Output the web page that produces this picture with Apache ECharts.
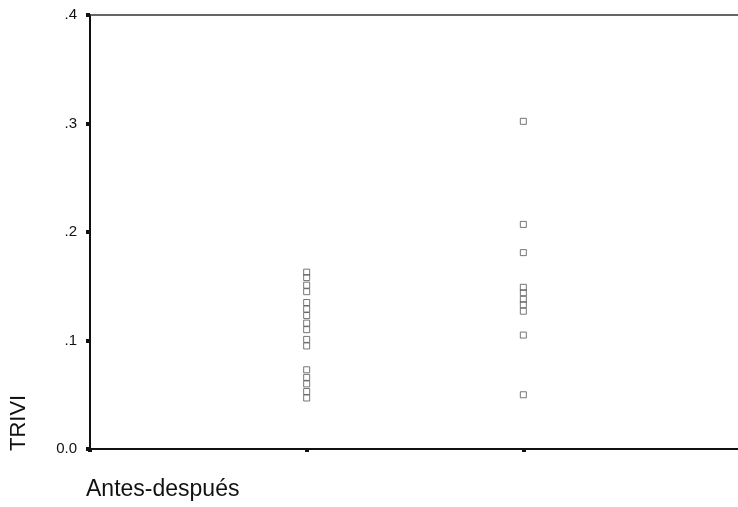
<!DOCTYPE html>
<html><head><meta charset="utf-8">
<script src="https://cdn.jsdelivr.net/npm/echarts@6/dist/echarts.min.js"></script>
<style>html,body{margin:0;padding:0;background:#fff}#c{width:738px;height:507px}</style>
</head><body><div id="c"></div>
<script>
const groupX = [1, 2];
const groupA = [0.163, 0.158, 0.151, 0.145, 0.135, 0.129, 0.123, 0.116, 0.110, 0.101, 0.095, 0.073, 0.066, 0.060, 0.053, 0.047];
const groupB = [0.302, 0.207, 0.181, 0.149, 0.144, 0.138, 0.133, 0.127, 0.105, 0.050];
const yTickLabels = {0: '0.0', 0.1: '.1', 0.2: '.2', 0.3: '.3', 0.4: '.4'};
const xTitle = 'Antes-después';
const yTitle = 'TRIVI';

const pts = groupA.map(v => [groupX[0], v]).concat(groupB.map(v => [groupX[1], v]));

const chart = echarts.init(document.getElementById('c'));
chart.setOption({
  animation: false,
  grid: {left: 90, right: -2, top: 15, bottom: 58, containLabel: false, outerBoundsMode: 'none'},
  graphic: [
    {type: 'text', left: 86, top: 478, style: {text: xTitle, font: '23px "Liberation Sans"', fill: '#111'}},
    {type: 'text', x: 8, y: 451, rotation: Math.PI / 2, style: {text: yTitle, font: '22px "Liberation Sans"', fill: '#111', textAlign: 'left', textVerticalAlign: 'top'}}
  ],
  xAxis: [{
    type: 'value', min: 0, max: 3, interval: 1,
    axisLine: {show: true, lineStyle: {color: '#111', width: 2}},
    axisTick: {show: true, length: 3, inside: false, lineStyle: {color: '#111', width: 4}},
    axisLabel: {show: false},
    splitLine: {show: false}
  }, {
    type: 'value', min: 0, max: 3, position: 'top',
    axisLine: {show: true, lineStyle: {color: '#333', width: 1.5}},
    axisTick: {show: false}, axisLabel: {show: false}, splitLine: {show: false}
  }],
  yAxis: {
    type: 'value', min: 0, max: 0.4, interval: 0.1,
    axisLine: {show: true, lineStyle: {color: '#111', width: 2}},
    axisTick: {show: true, length: 4, inside: false, lineStyle: {color: '#111', width: 4}},
    axisLabel: {fontFamily: 'Liberation Sans', fontSize: 15, color: '#111', margin: 13,
      formatter: v => yTickLabels[Math.round(v * 10) / 10]},
    splitLine: {show: false}
  },
  series: [{
    type: 'scatter',
    data: pts,
    symbol: 'rect',
    symbolSize: 6,
    itemStyle: {color: 'rgba(255,255,255,0)', borderColor: '#555', borderWidth: 1}
  }]
});
</script></body></html>
